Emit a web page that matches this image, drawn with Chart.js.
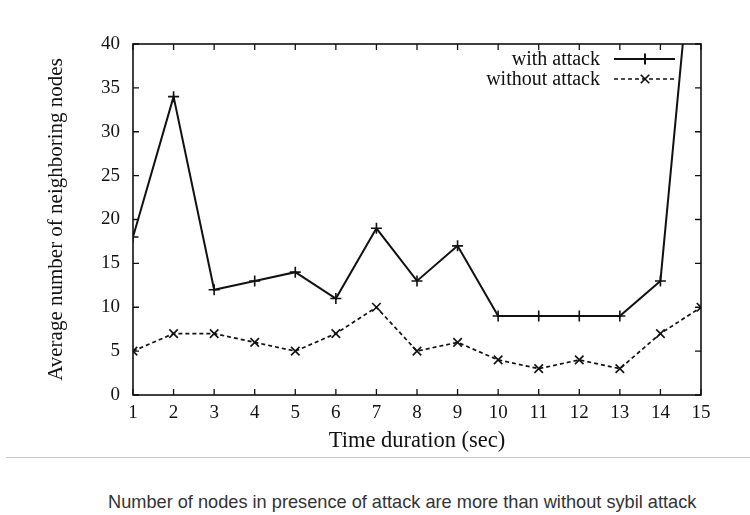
<!DOCTYPE html>
<html>
<head>
<meta charset="utf-8">
<script src="https://cdn.jsdelivr.net/npm/chart.js@4.4.1/dist/chart.umd.min.js"></script>
<style>
  html, body { margin: 0; padding: 0; background: #fff; }
  #wrap { position: relative; width: 750px; height: 515px; overflow: hidden; }
  #c { position: absolute; left: 0; top: 0; }
  #sep { position: absolute; left: 6px; top: 457px; width: 744px; height: 0; border-top: 1px solid #c8c8c8; }
  #cap { position: absolute; left: 108px; top: 492px; font-family: "Liberation Sans", Arial, sans-serif; font-size: 18.2px; line-height: 20px; color: #333; white-space: nowrap; }
</style>
</head>
<body>
<div id="wrap">
  <canvas id="c" width="750" height="455"></canvas>
  <div id="sep"></div>
  <div id="cap">Number of nodes in presence of attack are more than without sybil attack</div>
</div>
<script>
// ---- data ----
const timeSec = [1, 2, 3, 4, 5, 6, 7, 8, 9, 10, 11, 12, 13, 14, 15];
const withAttack = [18, 34, 12, 13, 14, 11, 19, 13, 17, 9, 9, 9, 9, 13, 62];
const withoutAttack = [5, 7, 7, 6, 5, 7, 10, 5, 6, 4, 3, 4, 3, 7, 10];
const seriesNames = ['with attack', 'without attack'];
const xTitle = 'Time duration (sec)';
const yTitle = 'Average number of neighboring nodes';
const yTicks = [0, 5, 10, 15, 20, 25, 30, 35, 40];

const SERIF = '"Liberation Serif", "Times New Roman", serif';
const INK = '#111';

function pts(vals) { return timeSec.map((t, i) => ({ x: t, y: vals[i] })); }

const frame = {
  id: 'frame',
  afterDatasetsDraw(chart) {
    const { ctx, chartArea: a, scales } = chart;
    ctx.save();
    ctx.strokeStyle = INK;
    ctx.lineWidth = 1.6;
    ctx.strokeRect(a.left, a.top, a.right - a.left, a.bottom - a.top);
    ctx.lineWidth = 1.3;
    const tl = 6;
    ctx.beginPath();
    timeSec.forEach(v => {
      const px = scales.x.getPixelForValue(v);
      ctx.moveTo(px, a.bottom); ctx.lineTo(px, a.bottom - tl);
      ctx.moveTo(px, a.top); ctx.lineTo(px, a.top + tl);
    });
    yTicks.forEach(v => {
      const py = scales.y.getPixelForValue(v);
      ctx.moveTo(a.left, py); ctx.lineTo(a.left + tl, py);
      ctx.moveTo(a.right, py); ctx.lineTo(a.right - tl, py);
    });
    ctx.stroke();

    // legend (inside top-right)
    const textRight = 600, x0 = 614, x1 = 675, xm = 645;
    const rows = [59, 79];
    ctx.font = '20px ' + SERIF;
    ctx.fillStyle = INK;
    ctx.textAlign = 'right';
    ctx.textBaseline = 'middle';
    chart.data.datasets.forEach((ds, i) => {
      const y = rows[i];
      ctx.fillText(ds.label, textRight, y + 1);
      ctx.beginPath();
      ctx.strokeStyle = ds.borderColor;
      ctx.lineWidth = ds.borderWidth;
      ctx.setLineDash(ds.borderDash || []);
      ctx.moveTo(x0, y); ctx.lineTo(x1, y);
      ctx.stroke();
      ctx.setLineDash([]);
      Chart.helpers.drawPoint(ctx, {
        pointStyle: ds.pointStyle, radius: ds.pointRadius, borderWidth: ds.pointBorderWidth, rotation: 0
      }, xm, y);
    });
    ctx.restore();
  }
};

new Chart(document.getElementById('c'), {
  type: 'line',
  data: {
    datasets: [
      {
        label: seriesNames[0],
        data: pts(withAttack),
        borderColor: INK,
        backgroundColor: INK,
        borderWidth: 2,
        pointStyle: 'cross',
        pointRadius: 5.5,
        pointBorderWidth: 1.6,
        pointBorderColor: INK,
        fill: false,
        tension: 0
      },
      {
        label: seriesNames[1],
        data: pts(withoutAttack),
        borderColor: INK,
        backgroundColor: INK,
        borderWidth: 1.7,
        borderDash: [4, 3],
        pointStyle: 'crossRot',
        pointRadius: 6,
        pointBorderWidth: 1.6,
        pointBorderColor: INK,
        fill: false,
        tension: 0
      }
    ]
  },
  options: {
    responsive: false,
    animation: false,
    events: [],
    layout: { padding: { left: 0, top: 44, right: 49, bottom: 0 } },
    plugins: { legend: { display: false }, tooltip: { enabled: false } },
    scales: {
      x: {
        type: 'linear',
        min: 1, max: 15,
        afterBuildTicks(scale) { scale.ticks = timeSec.map(v => ({ value: v })); },
        afterFit(scale) { scale.height = 60; },
        grid: { display: false, drawTicks: false },
        border: { display: false },
        ticks: { color: INK, font: { family: SERIF, size: 19 }, padding: 7, maxRotation: 0, autoSkip: false },
        title: { display: true, text: xTitle, color: INK, font: { family: SERIF, size: 22.5 }, padding: { top: 0, bottom: 0 } }
      },
      y: {
        min: 0, max: 40,
        afterBuildTicks(scale) { scale.ticks = yTicks.map(v => ({ value: v })); },
        afterFit(scale) { scale.width = 133; },
        grid: { display: false, drawTicks: false },
        border: { display: false },
        ticks: { color: INK, font: { family: SERIF, size: 19 }, padding: 13 },
        title: { display: true, text: yTitle, color: INK, font: { family: SERIF, size: 21 }, padding: { top: 44, bottom: 0 } }
      }
    }
  },
  plugins: [frame]
});
</script>
</body>
</html>
